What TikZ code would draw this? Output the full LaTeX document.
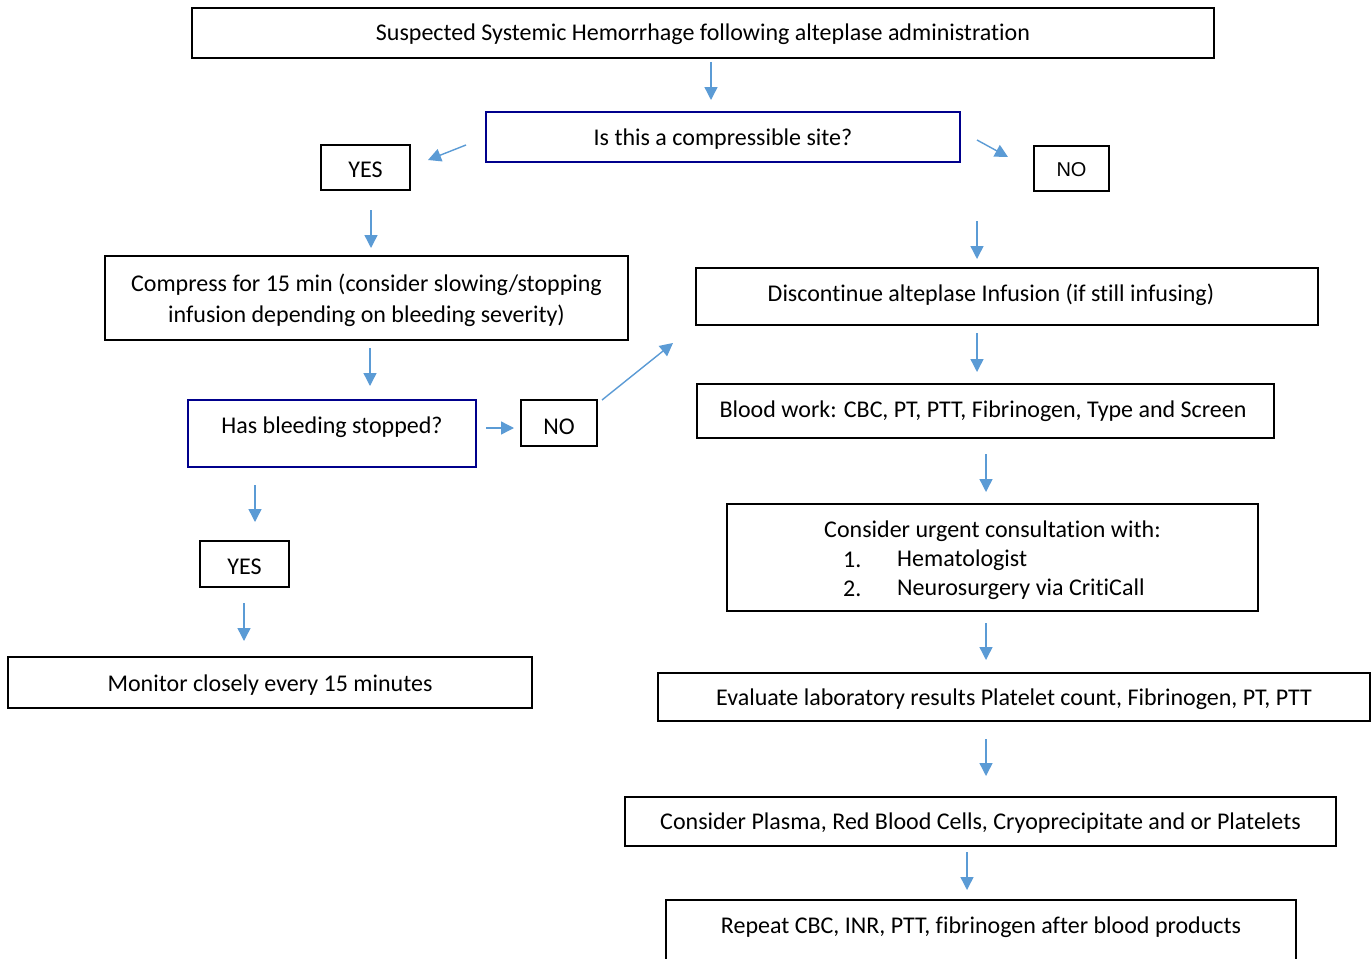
\documentclass[tikz,border=0pt]{standalone}
\usepackage{fontspec}
\setmainfont{Carlito}[Ligatures=NoCommon]
\newfontfamily\arialfont{Liberation Sans}
\usetikzlibrary{arrows.meta,calc}
\definecolor{arrblue}{RGB}{91,155,213}
\definecolor{navyb}{RGB}{0,0,140}
\tikzset{
  box/.style={draw=black, line width=1.5pt, fill=white, inner sep=0pt, align=center},
  qbox/.style={draw=navyb, line width=2pt, fill=white, inner sep=0pt, align=center},
  arr/.style={draw=arrblue, line width=1.4pt, -{Triangle[length=13pt,width=13pt]}},
  txt/.style={inner sep=0pt},
}
\begin{document}
\begin{tikzpicture}[x=1pt,y=-1pt, font=\fontsize{24}{31}\selectfont]
\clip (0,0) rectangle (1372,958);
\fill[white] (0,0) rectangle (1372,958);

% boxes
\node[box, minimum width=1022pt, minimum height=50pt] (start) at (703,33) {};
\node[txt] at (703,34) {Suspected Systemic Hemorrhage following alteplase administration};
\node[qbox, minimum width=474pt, minimum height=50pt] (comp) at (723,137) {};
\node[txt] at (723,139) {Is this a compressible site?};
\node[box, minimum width=89pt, minimum height=45pt] (yes1) at (365.5,167.5) {};
\node[txt] at (365.5,170) {YES};
\node[box, minimum width=75pt, minimum height=45pt] (no1) at (1071.5,168.5) {};
\node[txt] at (1071.5,170) {\fontsize{20}{24}\arialfont NO};
\node[box, minimum width=523pt, minimum height=84pt] (press) at (366.5,298) {};
\node[txt, align=center] at (366.5,300) {Compress for 15 min (consider slowing/stopping\\infusion depending on bleeding severity)};
\node[box, minimum width=622pt, minimum height=57pt] (stop) at (1007,296.5) {};
\node[txt] at (991,295) {Discontinue alteplase Infusion (if still infusing)};
\node[qbox, minimum width=288pt, minimum height=67pt] (bleed) at (332,433.5) {};
\node[txt] at (332,427) {Has bleeding stopped?};
\node[box, minimum width=76pt, minimum height=46pt] (no2) at (559,423) {};
\node[txt] at (559,427) {NO};
\node[box, minimum width=577pt, minimum height=54pt] (blood) at (985.5,411) {};
\node[txt] at (983,411) {Blood work: CBC, PT, PTT, Fibrinogen, Type and Screen};
\node[box, minimum width=531pt, minimum height=107pt] (consult) at (992.5,557.5) {};
\node[txt] at (992.5,531) {Consider urgent consultation with:};
\node[txt, anchor=west] at (843,560) {1.};
\node[txt, anchor=west] at (897,560) {Hematologist};
\node[txt, anchor=west] at (843,589) {2.};
\node[txt, anchor=west] at (897,589) {Neurosurgery via CritiCall};
\node[box, minimum width=89pt, minimum height=46pt] (yes2) at (244.5,564) {};
\node[txt] at (244.5,567) {YES};
\node[box, minimum width=524pt, minimum height=51pt] (monitor) at (270,682.5) {};
\node[txt] at (270,685) {Monitor closely every 15 minutes};
\node[box, minimum width=712pt, minimum height=48pt] (eval) at (1014,697) {};
\node[txt] at (1014,699) {Evaluate laboratory results Platelet count, Fibrinogen, PT, PTT};
\node[box, minimum width=711pt, minimum height=49pt] (plasma) at (980.5,821.5) {};
\node[txt] at (980.5,823) {Consider Plasma, Red Blood Cells, Cryoprecipitate and or Platelets};
\node[box, minimum width=630pt, minimum height=80pt] (repeat) at (981,940) {};
\node[txt] at (981,927) {Repeat CBC, INR, PTT, fibrinogen after blood products};

% arrow end points
\coordinate (a1s) at (711,62);   \coordinate (a1e) at (711,100);
\coordinate (a2s) at (466,145);  \coordinate (a2e) at (428,160);
\coordinate (a3s) at (977,140);  \coordinate (a3e) at (1008,157);
\coordinate (a4s) at (371,210);  \coordinate (a4e) at (371,248);
\coordinate (a5s) at (977,221);  \coordinate (a5e) at (977,259);
\coordinate (a6s) at (370,348);  \coordinate (a6e) at (370,386);
\coordinate (a7s) at (486,428);  \coordinate (a7e) at (514,428);
\coordinate (a8s) at (602,400);  \coordinate (a8e) at (673,343);
\coordinate (a9s) at (977,333);  \coordinate (a9e) at (977,372);
\coordinate (a10s) at (986,454); \coordinate (a10e) at (986,492);
\coordinate (a11s) at (986,623); \coordinate (a11e) at (986,660);
\coordinate (a12s) at (255,485); \coordinate (a12e) at (255,522);
\coordinate (a13s) at (244,603); \coordinate (a13e) at (244,641);
\coordinate (a14s) at (986,739); \coordinate (a14e) at (986,776);
\coordinate (a15s) at (967,852); \coordinate (a15e) at (967,890);

\foreach \i in {1,...,15} {\draw[arr] (a\i s) -- (a\i e);}
\end{tikzpicture}
\end{document}
